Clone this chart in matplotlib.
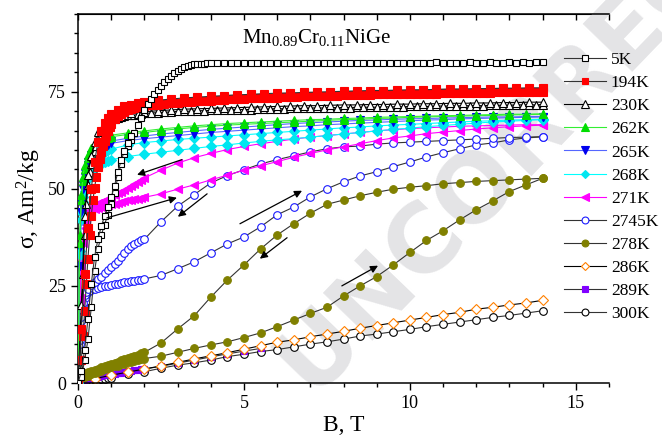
import numpy as np
import matplotlib
matplotlib.use('Agg')
import matplotlib.pyplot as plt
from matplotlib.ticker import MultipleLocator

plt.rcParams['font.family'] = 'Liberation Serif'
plt.rcParams['mathtext.fontset'] = 'custom'
plt.rcParams['mathtext.rm'] = 'Liberation Serif'
plt.rcParams['mathtext.it'] = 'Liberation Serif:italic'

# field sweeps (T)
b_fine = np.round(np.arange(0, 1.001, 0.05), 2)        # 0..1 step 0.05
b_mid = np.round(np.arange(1.1, 2.001, 0.1), 2)        # 1.1..2
b_sweep = np.round(np.arange(2.2, 14.001, 0.2), 2)     # 2.2..14
b_back = np.round(np.arange(14, 2.39, -0.4), 2)        # 14..2.4 going down
b_low = np.round(np.arange(0, 2.001, 0.1), 2)          # 0..2 step 0.1
b_half = np.round(np.arange(2.5, 14.001, 0.5), 2)      # 2.5..14 step 0.5
b_sat = [0, 0.05, 0.1, 0.15, 0.2, 0.3, 0.4, 0.5, 0.6, 0.7, 0.8, 0.9, 1.0, 1.5, 2.0]
b_dense = [0, 0.05, 0.1, 0.15, 0.2, 0.25] + list(np.round(np.arange(0.3, 2.001, 0.1), 2))

# ---- 5 K
b5_up = np.round(np.r_[np.arange(0, 4.001, 0.1), np.arange(4.2, 14.001, 0.2)], 2)
s5_up = [0, 1.5, 5.8, 11.2, 19.5, 28.8, 34.5, 38, 40.8, 43.3,
         46, 49, 53, 56.5, 59, 61, 62.6, 64.4, 66.3, 68.3,
         70.2, 71.8, 73.1, 74.3, 75.4, 76.4, 77.4, 78.3, 79.1, 79.8,
         80.4, 80.9, 81.3, 81.6, 81.8, 82.0, 82.1, 82.2, 82.2, 82.3, 82.3,
         82.3, 82.3, 82.4, 82.3, 82.4, 82.4, 82.3, 82.4, 82.4, 82.4,
         82.4, 82.5, 82.4, 82.4, 82.5, 82.4, 82.5, 82.5, 82.4, 82.5,
         82.5, 82.5, 82.4, 82.5, 82.5, 82.5, 82.5, 82.4, 82.5, 82.5,
         82.5, 82.5, 82.5, 82.6, 82.5, 82.5, 82.5, 82.5, 82.6, 82.5,
         82.5, 82.6, 82.5, 82.5, 82.6, 82.5, 82.6, 82.5, 82.6, 82.6]
b5_dn = [1.6, 1.5, 1.4, 1.3, 1.2, 1.1, 1.0, 0.9, 0.8, 0.7, 0.6, 0.5, 0.4, 0.3, 0.2, 0.1, 0.0]
s5_dn = [63.5, 61.8, 59.8, 57.3, 54.3, 50.8, 47.8, 45.3, 43, 40.3, 37, 32.5, 25.5, 16.5, 8.5, 3, 0]

# ---- 194 K
b194_up = np.r_[b_fine, b_mid, b_sweep]
s194_up = [0, 2, 6, 12, 18.5, 25.5, 32, 38, 43, 47, 50.3, 53, 55.5, 57.6, 59.4, 61, 62.4, 63.7, 64.8, 65.8, 66.7,
           67.9, 68.7, 69.3, 69.8, 70.2, 70.5, 70.8, 71.0, 71.2, 71.4,
           71.5, 71.7, 71.9, 72.0, 72.2, 72.3, 72.4, 72.5, 72.6, 72.7,
           72.8, 72.9, 73.0, 73.1, 73.2, 73.3, 73.3, 73.4, 73.5, 73.5,
           73.6, 73.7, 73.7, 73.8, 73.8, 73.9, 73.9, 74.0, 74.0, 74.1,
           74.1, 74.2, 74.2, 74.2, 74.3, 74.3, 74.3, 74.4, 74.4, 74.4,
           74.5, 74.5, 74.5, 74.5, 74.6, 74.6, 74.6, 74.6, 74.7, 74.7,
           74.7, 74.7, 74.8, 74.8, 74.8, 74.8, 74.8, 74.9, 74.9, 74.9]
b194_dn = np.r_[b_back, [2.0, 1.8, 1.6, 1.4, 1.2, 1.0, 0.9, 0.8, 0.7, 0.6, 0.5, 0.4, 0.3, 0.2, 0.1, 0.0]]
s194_dn = [76.0, 76.0, 75.9, 75.9, 75.8, 75.8, 75.7, 75.7, 75.6, 75.5,
           75.5, 75.4, 75.3, 75.3, 75.2, 75.1, 75.0, 74.9, 74.8, 74.7,
           74.6, 74.5, 74.3, 74.2, 74.0, 73.8, 73.6, 73.4, 73.1, 72.8,
           72.4, 72.1, 71.7, 71.2, 70.4, 69.2, 68.3, 67.0, 65.0, 62.0, 57.0, 50.0, 40.0, 28.0, 14.0, 0.0]

# ---- 230 K
b230_up = np.r_[b_fine, b_mid, b_sweep]
s230_up = [0, 4, 14, 28, 38, 46, 51, 54.3, 56.5, 58.2, 59.7, 61, 62.3, 63.5, 64.6, 65.4, 66, 66.5, 67, 67.3, 67.6,
           68.0, 68.3, 68.5, 68.7, 68.9, 69.0, 69.1, 69.2, 69.3, 69.4,
           69.5, 69.6, 69.7, 69.8, 69.9, 69.9, 70.0, 70.1, 70.1, 70.2,
           70.2, 70.3, 70.3, 70.4, 70.4, 70.4, 70.5, 70.5, 70.6, 70.6,
           70.6, 70.7, 70.7, 70.7, 70.8, 70.8, 70.8, 70.9, 70.9, 70.9,
           70.9, 71.0, 71.0, 71.0, 71.0, 71.1, 71.1, 71.1, 71.1, 71.2,
           71.2, 71.2, 71.2, 71.3, 71.3, 71.3, 71.3, 71.4, 71.4, 71.4,
           71.4, 71.5, 71.5, 71.5, 71.5, 71.6, 71.6, 71.6, 71.6, 71.7]
b230_dn = np.r_[b_back, [2.0, 1.6, 1.2, 1.0, 0.8, 0.6, 0.5, 0.4, 0.3, 0.2, 0.1, 0.0]]
s230_dn = [72.3, 72.3, 72.2, 72.2, 72.1, 72.1, 72.0, 72.0, 71.9, 71.9,
           71.8, 71.8, 71.7, 71.7, 71.6, 71.6, 71.5, 71.4, 71.4, 71.3,
           71.2, 71.1, 71.0, 70.9, 70.8, 70.7, 70.6, 70.5, 70.3, 70.1,
           69.8, 69.4, 68.8, 68.3, 67.2, 64.5, 62.0, 58.5, 53.5, 43.0, 20.0, 0.0]

# ---- 262 K, 265 K, 268 K (up and down on the same fields)
b_262 = np.r_[b_sat, b_half]
s262_up = [0, 36, 47, 52, 55, 58, 59.8, 61, 61.8, 62.3, 62.8, 63.1, 63.4, 64.0, 64.5,
           65.0, 65.4, 65.8, 66.1, 66.4, 66.6, 66.8, 67.0, 67.2, 67.4,
           67.6, 67.8, 67.9, 68.1, 68.2, 68.4, 68.5, 68.6, 68.7, 68.8, 68.9, 69.0, 69.1, 69.2]
s262_dn = [0, 38, 48.5, 53, 56, 58.8, 60.4, 61.5, 62.3, 62.8, 63.2, 63.5, 63.8, 64.4, 64.9,
           65.4, 65.8, 66.2, 66.5, 66.8, 67.0, 67.2, 67.4, 67.6, 67.8,
           67.9, 68.1, 68.2, 68.4, 68.5, 68.6, 68.7, 68.8, 68.9, 69.0, 69.1, 69.2, 69.2, 69.3]
s265_up = [0, 30, 44, 50, 53, 56, 57.8, 59, 59.8, 60.5, 61, 61.4, 61.7, 62.4, 62.9,
           63.3, 63.7, 64.1, 64.5, 64.8, 65.1, 65.4, 65.7, 66.0, 66.2,
           66.5, 66.7, 66.9, 67.1, 67.3, 67.5, 67.7, 67.8, 68.0, 68.1, 68.2, 68.3, 68.4, 68.5]
s265_dn = [0, 35, 46, 51, 54, 57, 58.6, 59.7, 60.5, 61.1, 61.6, 62, 62.3, 63, 63.6,
           64.1, 64.5, 64.9, 65.3, 65.6, 65.9, 66.2, 66.5, 66.8, 67.0,
           67.2, 67.4, 67.6, 67.7, 67.9, 68.0, 68.1, 68.2, 68.3, 68.4, 68.5, 68.5, 68.6, 68.6]
s268_up = [0, 33, 42, 46.5, 49.5, 52.5, 54.3, 55.3, 56, 56.5, 56.9, 57.2, 57.5, 58.3, 58.9,
           59.4, 59.9, 60.4, 60.9, 61.3, 61.8, 62.2, 62.6, 62.9, 63.3,
           63.7, 64.1, 64.5, 64.9, 65.3, 65.6, 66.0, 66.3, 66.6, 66.9, 67.2, 67.4, 67.6, 67.8]
s268_dn = [0, 34, 44, 48, 51, 54, 56, 57.3, 58.3, 59, 59.5, 59.9, 60.2, 61.3, 61.9,
           62.3, 62.7, 63.0, 63.3, 63.6, 63.9, 64.2, 64.5, 64.8, 65.1,
           65.4, 65.7, 65.9, 66.2, 66.4, 66.6, 66.8, 67.0, 67.2, 67.4, 67.5, 67.7, 67.8, 67.9]

# ---- 271 K, 274.5 K, 278 K
b_271 = np.r_[b_dense, b_half]
s271_up = [0, 20, 30, 36, 40, 42, 43.2, 44.2, 44.7, 45.0, 45.3, 45.6, 45.8, 46.0, 46.2, 46.4,
           46.6, 46.8, 47.0, 47.1, 47.3, 47.5, 47.6, 47.8,
           48.7, 49.9, 51.0, 52.3, 53.5, 54.8, 55.9, 57.0, 58.1, 59.1, 60.0, 60.8,
           61.6, 62.4, 63.1, 63.6, 64.2, 64.6, 65.0, 65.4, 65.7, 66.0, 66.2, 66.4]
s271_dn = [0, 22, 32, 38, 41, 43, 44.2, 45.2, 45.8, 46.3, 46.7, 47.1, 47.5, 47.9, 48.3, 48.8,
           49.3, 49.8, 50.3, 50.8, 51.3, 51.8, 52.3, 52.8,
           54.8, 56.6, 58.0, 59.1, 60.1, 60.9, 61.6, 62.2, 62.8, 63.3, 63.7, 64.1,
           64.5, 64.9, 65.2, 65.5, 65.7, 65.9, 66.1, 66.2, 66.3, 66.4, 66.5, 66.5]
s2745_up = [0, 10, 16, 20, 22, 22.8, 23.3, 23.9, 24.2, 24.5, 24.7, 24.9, 25.1, 25.3, 25.4, 25.6,
            25.7, 25.9, 26.0, 26.2, 26.3, 26.5, 26.6, 26.8,
            27.7, 29.4, 31.2, 33.5, 35.8, 37.6, 40.2, 43.3, 45.3, 47.9, 50.0, 51.8,
            53.3, 54.4, 55.7, 56.9, 58.2, 59.3, 60.3, 61.3, 61.8, 62.6, 63.1, 63.4]
s2745_dn = [0, 11, 17, 20.5, 22.6, 23.5, 24.2, 25.2, 26.0, 26.7, 27.4, 28.2, 29.0, 29.8, 30.6, 31.5,
            32.5, 33.5, 34.4, 35.2, 35.8, 36.3, 36.7, 37.0,
            41.5, 45.5, 48.5, 51.5, 53.4, 54.9, 56.4, 57.5, 58.5, 59.5, 60.3, 60.8,
            61.0, 61.5, 61.8, 62.0, 62.2, 62.4, 62.6, 62.8, 63.0, 63.2, 63.3, 63.4]
b_278 = np.r_[b_low, b_half]
s278_up = [0.5, 1.0, 1.5, 1.9, 2.3, 2.6, 2.9, 3.2, 3.5, 3.8, 4.0, 4.3, 4.5, 4.8, 5.0, 5.3,
           5.5, 5.7, 5.9, 6.1, 6.3,
           6.9, 7.9, 8.9, 9.8, 10.6, 11.7, 12.9, 14.5, 16.2, 17.9, 19.5, 22.4,
           25.0, 27.4, 30.4, 33.6, 36.7, 39.2, 42.0, 44.6, 46.9, 49.3, 51.0, 52.7]
s278_dn = [1.5, 2.1, 2.5, 2.8, 3.1, 3.4, 3.7, 4.0, 4.3, 4.6, 4.9, 5.2, 5.5, 5.8, 6.1, 6.4,
           6.7, 7.0, 7.3, 7.6, 7.9,
           10.3, 13.9, 17.3, 22.1, 26.5, 30.4, 34.5, 38.1, 41.0, 43.7, 46.0, 47.1,
           48.2, 49.1, 49.9, 50.4, 50.8, 51.3, 51.6, 51.9, 52.1, 52.3, 52.5, 52.7]

# ---- 286 K, 289 K, 300 K
b_286 = np.r_[[0, 0.5, 1.0, 1.5, 2.0], b_half]
s_286 = [0, 1.1, 2.0, 2.8, 3.6,
         4.4, 5.3, 6.2, 7.0, 7.8, 8.7, 9.6, 10.5, 11.1, 11.9, 12.6, 13.3,
         14.1, 14.8, 15.5, 16.2, 16.9, 17.6, 18.2, 19.0, 19.5, 20.1, 20.6, 21.3]
b_289 = np.r_[b_low, [2.5, 3.0, 3.5, 4.0, 4.5, 5.0, 5.5]]
s_289 = [0, 0.5, 0.8, 1.0, 1.2, 1.4, 1.6, 1.8, 2.0, 2.1, 2.3, 2.4, 2.6, 2.7, 2.9, 3.0,
         3.1, 3.3, 3.4, 3.5, 3.6,
         4.3, 5.1, 5.9, 6.7, 7.5, 8.2, 8.9]
b_300 = np.r_[[0, 0.1, 0.2, 0.3, 0.4, 0.5, 0.6, 0.7, 0.8, 0.9, 1.0, 1.5, 2.0], b_half]
s_300 = [0, 0.4, 0.5, 0.6, 0.7, 0.8, 0.9, 1.0, 1.1, 1.2, 1.4, 2.3, 2.9,
         3.8, 4.6, 5.2, 5.9, 6.8, 7.4, 8.1, 8.6, 9.3, 10.0, 10.6, 11.3,
         12.1, 12.6, 13.2, 13.8, 14.5, 15.1, 15.7, 16.3, 16.9, 17.4, 18.0, 18.6]

labels = ['5K', '194K', '230K', '262K', '265K', '268K', '271K', '2745K', '278K', '286K', '289K', '300K']
branches = [
    [(b5_up, s5_up), (b5_dn, s5_dn)],
    [(b194_up, s194_up), (b194_dn, s194_dn)],
    [(b230_up, s230_up), (b230_dn, s230_dn)],
    [(b_262, s262_up), (b_262, s262_dn)],
    [(b_262, s265_up), (b_262, s265_dn)],
    [(b_262, s268_up), (b_262, s268_dn)],
    [(b_271, s271_up), (b_271, s271_dn)],
    [(b_271, s2745_up), (b_271, s2745_dn)],
    [(b_278, s278_up), (b_278, s278_dn)],
    [(b_286, s_286)],
    [(b_289, s_289)],
    [(b_300, s_300)],
]
# line colour, marker, face, edge, size
styles = [
    ('#333333', 's', 'white', 'black', 5),
    ('#333333', 's', '#ff0000', '#ff0000', 5.5),
    ('black', '^', 'white', 'black', 6),
    ('#33ee33', '^', '#00dd00', '#00dd00', 6),
    ('#5566ff', 'v', '#0000ee', '#0000ee', 6),
    ('#00ffff', 'D', '#00e6f0', '#00e6f0', 5),
    ('#ff00ff', '<', '#ff00ff', '#ff00ff', 6),
    ('#333333', 'o', 'white', '#1a1aff', 5.5),
    ('#333333', 'o', '#808000', '#808000', 5.5),
    ('black', 'D', 'white', '#ff8000', 5),
    ('#333333', 's', '#8000ff', '#8000ff', 5),
    ('#333333', 'o', 'white', 'black', 5.5),
]

# field-direction arrows: (tail, head)
arrows = [((0.87, 42.5), (2.98, 47.7)),
          ((3.13, 57.5), (1.78, 53.6)),
          ((3.89, 48.7), (3.01, 42.8)),
          ((4.88, 41.0), (6.75, 49.5)),
          ((6.30, 37.4), (5.48, 32.0)),
          ((7.95, 25.0), (9.04, 30.2))]

fig = plt.figure(figsize=(6.62, 4.38), dpi=100)
ax = fig.add_axes([78 / 662, 1 - 383 / 438, (609 - 78) / 662, (383 - 14) / 438])

# watermark
ax.text(312 / 662, 1 - 395 / 438, 'UNCORRECTED', transform=fig.transFigure,
        fontsize=68, fontweight='bold', family='DejaVu Sans', color='#e4e4e6',
        rotation=46, rotation_mode='anchor', ha='left', va='baseline',
        zorder=0.5, clip_on=False)

handles = []
n = len(labels)
for i in range(n):
    lc, mk, mf, me, ms = styles[i]
    for j, (bb, ss) in enumerate(branches[i]):
        h, = ax.plot(bb, ss, color=lc, lw=0.8, marker=mk, mfc=mf, mec=me, ms=ms,
                     mew=0.8, zorder=2 + (n - i) * 0.1)
        if j == 0:
            handles.append(h)

for tail, head in arrows:
    ax.annotate('', xy=head, xytext=tail,
                arrowprops=dict(arrowstyle='-|>', color='black', lw=0.9,
                                mutation_scale=11, shrinkA=0, shrinkB=0),
                zorder=4)

ax.text(0.45, 0.935, r'Mn$_{\mathrm{0.89}}$Cr$_{\mathrm{0.11}}$NiGe', transform=ax.transAxes,
        ha='center', va='center', fontsize=15)

ax.set_xlim(0, 16)
ax.set_ylim(0, 95)
ax.xaxis.set_major_locator(MultipleLocator(5))
ax.xaxis.set_minor_locator(MultipleLocator(1))
ax.yaxis.set_major_locator(MultipleLocator(25))
ax.yaxis.set_minor_locator(MultipleLocator(5))
ax.tick_params(which='both', direction='out', labelsize=13, width=1)
ax.tick_params(which='major', length=5)
ax.tick_params(which='minor', length=3)
ax.spines['right'].set_visible(False)
for s in ['left', 'bottom', 'top']:
    ax.spines[s].set_linewidth(1.1)

top = ax.secondary_xaxis('top')
top.xaxis.set_major_locator(MultipleLocator(5))
top.xaxis.set_minor_locator(MultipleLocator(1))
top.tick_params(which='both', direction='in', labeltop=False, length=4, width=1)

ax.set_xlabel('B, T', fontsize=17, labelpad=2)
ax.set_ylabel(r'σ, Am$^{\mathrm{2}}$/kg', fontsize=17, labelpad=4)

ax.legend(handles, labels, loc='upper left', bbox_to_anchor=(564 / 662, 1 - 52 / 438),
          bbox_transform=fig.transFigure, frameon=False, borderpad=0, borderaxespad=0,
          handlelength=2.4, handletextpad=0.3, labelspacing=0.40, fontsize=12.5,
          markerscale=0.9)

fig.savefig('out.png', dpi=100)
